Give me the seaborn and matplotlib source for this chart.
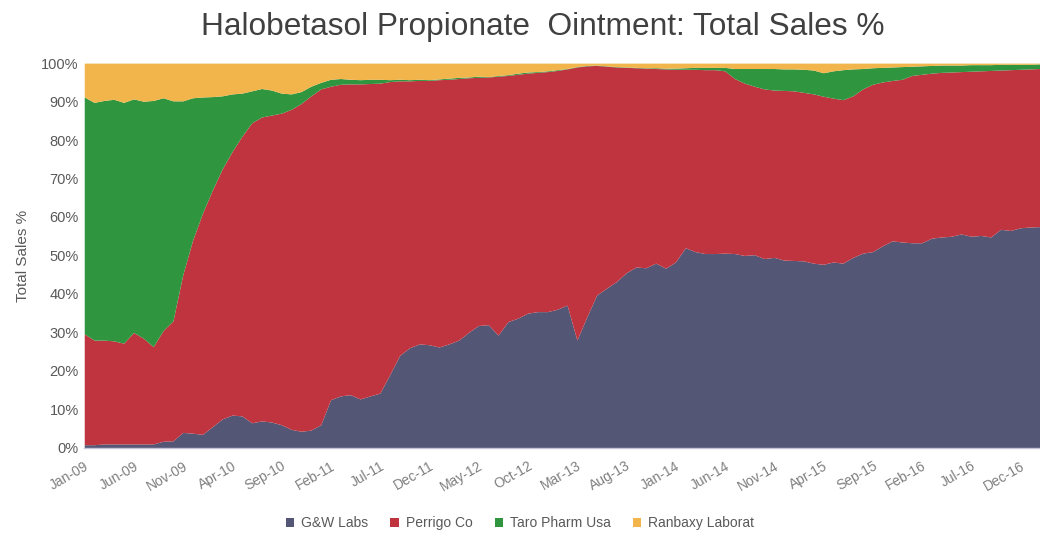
import numpy as np
import pandas as pd
import matplotlib
matplotlib.use("Agg")
import matplotlib.pyplot as plt
import seaborn as sns

# monthly share of total sales (%), Jan-09 .. Feb-17
months = pd.date_range("2009-01-01", "2017-02-01", freq="MS").strftime("%b-%y").tolist()

gw_labs = [0.8, 0.8, 1.0, 1.0, 1.0, 1.0, 1.0, 1.0, 1.7, 1.8,
           4.0, 3.8, 3.5, 5.5, 7.5, 8.5, 8.3, 6.5, 7.0, 6.7,
           6.0, 4.8, 4.3, 4.6, 6.0, 12.5, 13.5, 13.8, 12.7, 13.5,
           14.2, 19.0, 24.0, 26.0, 27.0, 26.8, 26.2, 27.0, 28.0, 30.0,
           31.8, 32.0, 29.3, 32.8, 33.7, 35.0, 35.4, 35.4, 36.0, 37.1,
           28.0, 34.0, 39.7, 41.5, 43.2, 45.5, 47.0, 46.8, 48.0, 46.7,
           48.3, 52.0, 51.0, 50.5, 50.5, 50.6, 50.5, 50.0, 50.2, 49.2,
           49.5, 48.8, 48.7, 48.6, 48.0, 47.7, 48.3, 48.0, 49.5, 50.6,
           51.0, 52.5, 53.8, 53.5, 53.3, 53.3, 54.5, 54.8, 55.0, 55.6,
           55.0, 55.2, 54.8, 56.8, 56.5, 57.2, 57.4, 57.5]

perrigo = [28.8, 27.2, 27.0, 26.8, 26.2, 29.0, 27.5, 25.3, 28.8, 31.2,
           41.0, 50.2, 57.5, 61.5, 65.0, 68.5, 72.7, 78.0, 79.0, 79.8,
           81.0, 83.2, 85.2, 86.9, 87.3, 81.5, 81.0, 80.8, 81.9, 81.2,
           80.6, 76.2, 71.4, 69.4, 68.5, 68.7, 69.5, 68.8, 68.0, 66.2,
           64.5, 64.4, 67.3, 64.0, 63.4, 62.4, 62.2, 62.4, 62.1, 61.4,
           71.0, 65.3, 59.7, 57.7, 55.8, 53.4, 51.8, 51.9, 50.6, 51.8,
           50.1, 46.4, 47.4, 47.8, 47.8, 47.4, 45.5, 44.8, 43.8, 44.1,
           43.5, 44.1, 44.1, 43.8, 44.0, 43.7, 42.6, 42.5, 42.0, 42.7,
           43.5, 42.6, 41.7, 42.3, 43.5, 43.8, 42.9, 42.8, 42.7, 42.2,
           42.9, 42.8, 43.3, 41.4, 41.8, 41.2, 41.1, 41.1]

taro = [61.6, 61.8, 62.3, 62.8, 62.6, 60.7, 61.6, 64.0, 60.5, 57.2,
        45.2, 37.0, 30.2, 24.3, 19.0, 15.0, 11.2, 8.3, 7.4, 6.5,
        5.2, 4.0, 3.1, 2.5, 1.7, 1.8, 1.5, 1.2, 1.1, 1.1,
        1.0, 0.5, 0.4, 0.3, 0.3, 0.2, 0.2, 0.3, 0.3, 0.2,
        0.3, 0.1, 0.2, 0.2, 0.3, 0.3, 0.2, 0.2, 0.2, 0.1,
        0.1, 0.1, 0.1, 0.1, 0.1, 0.1, 0.1, 0.1, 0.2, 0.2,
        0.3, 0.4, 0.5, 0.6, 0.6, 0.9, 2.6, 3.8, 4.6, 5.3,
        5.6, 5.6, 5.7, 6.0, 6.2, 6.1, 7.1, 7.8, 7.0, 5.3,
        4.3, 3.8, 3.5, 3.3, 2.4, 2.2, 2.0, 1.9, 1.8, 1.7,
        1.7, 1.6, 1.5, 1.5, 1.4, 1.3, 1.2, 1.2]

ranbaxy = [8.8, 10.2, 9.7, 9.4, 10.2, 9.3, 9.9, 9.7, 9.0, 9.8,
           9.8, 9.0, 8.8, 8.7, 8.5, 8.0, 7.8, 7.2, 6.6, 7.0,
           7.8, 8.0, 7.4, 6.0, 5.0, 4.2, 4.0, 4.2, 4.3, 4.2,
           4.2, 4.3, 4.2, 4.3, 4.2, 4.3, 4.1, 3.9, 3.7, 3.6,
           3.4, 3.5, 3.2, 3.0, 2.6, 2.3, 2.2, 2.0, 1.7, 1.4,
           0.9, 0.6, 0.5, 0.7, 0.9, 1.0, 1.1, 1.2, 1.2, 1.3,
           1.3, 1.2, 1.1, 1.1, 1.1, 1.1, 1.4, 1.4, 1.4, 1.4,
           1.4, 1.5, 1.5, 1.6, 1.8, 2.5, 2.0, 1.7, 1.5, 1.4,
           1.2, 1.1, 1.0, 0.9, 0.8, 0.7, 0.6, 0.5, 0.5, 0.5,
           0.4, 0.4, 0.4, 0.3, 0.3, 0.3, 0.3, 0.2]

series_names = ["G&W Labs", "Perrigo Co", "Taro Pharm Usa", "Ranbaxy Laborat"]
colors = ["#535675", "#C0343F", "#2F953E", "#F2B54B"]

sns.set_theme(style="white")
plt.rcParams["font.family"] = ["Liberation Sans", "DejaVu Sans"]

fig = plt.figure(figsize=(10.4, 5.35), dpi=100)
ax = fig.add_axes([0.081, 0.163, 0.919, 0.719])

x = np.arange(len(months))
ax.stackplot(x, gw_labs, perrigo, taro, ranbaxy,
             labels=series_names, colors=sns.color_palette(colors), linewidth=0)

ax.set_xlim(0, len(months) - 1)
ax.set_ylim(0, 100)
ax.set_yticks(np.arange(0, 101, 10))
ax.set_yticklabels([f"{v}%" for v in range(0, 101, 10)], fontsize=10.5, color="#595959")
ax.set_xticks(x[::5])
ax.set_xticklabels(months[::5], rotation=30, ha="right", rotation_mode="anchor",
                   fontsize=10, color="#7f7f7f")
ax.tick_params(axis="x", length=4, color="#bfbfbf", pad=4)
ax.tick_params(axis="y", length=0, pad=4)
ax.set_ylabel("Total Sales %", fontsize=11, color="#595959", labelpad=8)

for side in ["top", "right", "left"]:
    ax.spines[side].set_visible(False)
ax.spines["bottom"].set_color("#c8c4d8")
ax.spines["bottom"].set_linewidth(1)

fig.suptitle("Halobetasol Propionate  Ointment: Total Sales %", fontsize=22.8,
             color="#404040", x=0.522, y=0.978)

fig.legend(loc="lower center", ncol=4, bbox_to_anchor=(0.5, -0.014), frameon=False,
           fontsize=10, handlelength=0.6, handleheight=0.6, handletextpad=0.5,
           columnspacing=1.6, labelcolor="#595959")

fig.savefig("out.png", dpi=100)
